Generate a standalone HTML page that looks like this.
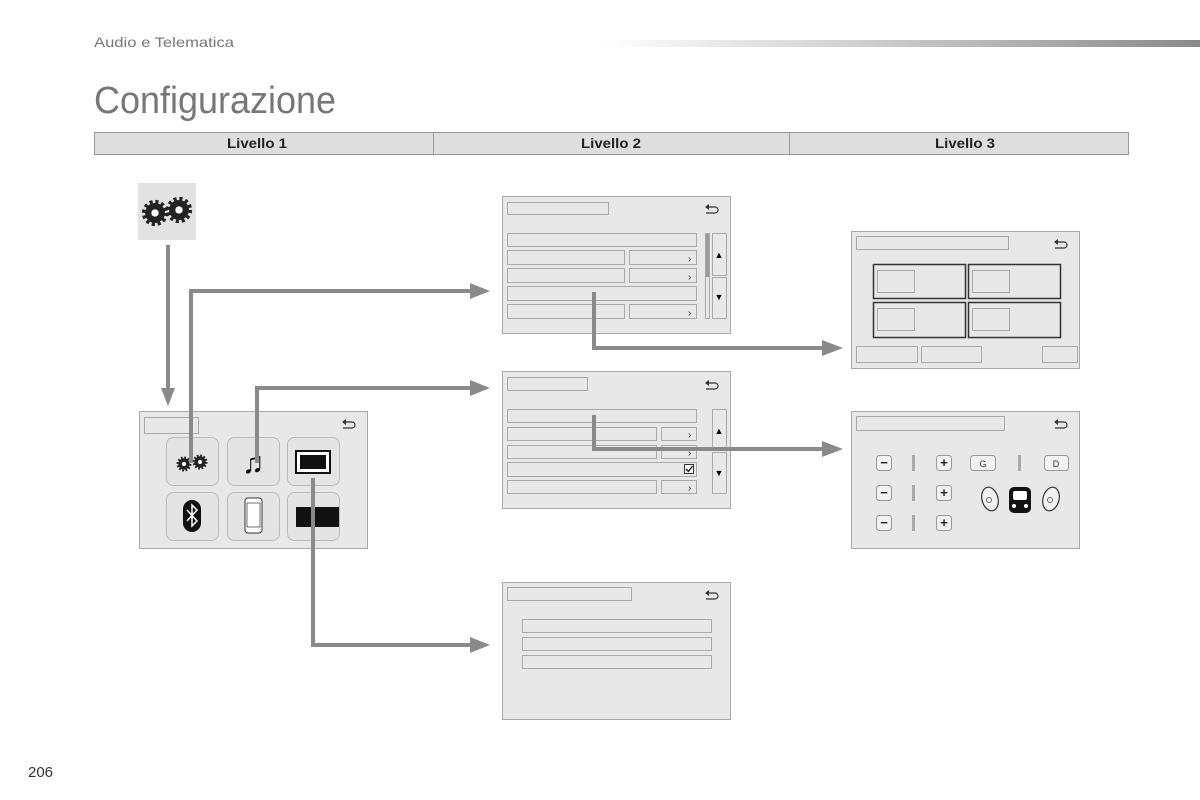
<!DOCTYPE html>
<html><head><meta charset="utf-8"><style>
html,body{margin:0;padding:0;background:#fff;}
svg{display:block;font-family:"Liberation Sans",sans-serif;}
</style></head><body>
<svg width="1200" height="800" viewBox="0 0 1200 800" xmlns="http://www.w3.org/2000/svg">
<defs>
<linearGradient id="g1" x1="0" x2="1"><stop offset="0" stop-color="#fff"/><stop offset="0.5" stop-color="#c8c8c8"/><stop offset="1" stop-color="#8a8a8a"/></linearGradient>
<g id="gear">
<circle r="10.5" fill="none" stroke="#222" stroke-width="4" stroke-dasharray="2.9 2.6"/>
<circle r="9.5" fill="#222"/>
<circle r="3.5" fill="#fff"/>
</g>
<g id="back"><path d="M-5,-3 H3 A3,3 0 0 1 3,3 H-6" fill="none" stroke="#333" stroke-width="1.2"/><path d="M-7,-3 L-3,-6 L-3,0 Z" fill="#333"/></g>
</defs>
<text x="94" y="47" font-size="14" fill="#777" textLength="140" lengthAdjust="spacingAndGlyphs">Audio e Telematica</text>
<rect x="600" y="40" width="600" height="7" fill="url(#g1)"/>
<text x="94" y="113" font-size="38" fill="#777" textLength="242" lengthAdjust="spacingAndGlyphs">Configurazione</text>
<rect x="94.5" y="132.5" width="1034" height="22" fill="#dedede" stroke="#999"/>
<line x1="433.5" y1="132" x2="433.5" y2="155" stroke="#999"/>
<line x1="789.5" y1="132" x2="789.5" y2="155" stroke="#999"/>
<g font-size="14" font-weight="bold" fill="#222" text-anchor="middle">
<text x="257" y="148" textLength="60" lengthAdjust="spacingAndGlyphs">Livello 1</text><text x="611" y="148" textLength="60" lengthAdjust="spacingAndGlyphs">Livello 2</text><text x="965" y="148" textLength="60" lengthAdjust="spacingAndGlyphs">Livello 3</text></g>
<text x="28" y="777" font-size="15" fill="#333">206</text>

<rect x="138" y="183" width="58" height="57" fill="#e2e2e2"/>
<g transform="translate(155,213) scale(1.05)"><use href="#gear"/></g>
<g transform="translate(179,210) scale(1.05)"><use href="#gear"/></g>

<!-- Level 1 panel -->
<rect x="139.5" y="411.5" width="228" height="137" fill="#e8e8e8" stroke="#aaa"/>
<rect x="144.5" y="417.5" width="54" height="16" fill="none" stroke="#aaa"/>
<use href="#back" x="349" y="425"/>
<g fill="#e4e4e4" stroke="#bbb">
<rect x="166.5" y="437.5" width="52" height="48" rx="7"/><rect x="227.5" y="437.5" width="52" height="48" rx="7"/><rect x="287.5" y="437.5" width="52" height="48" rx="7"/>
<rect x="166.5" y="492.5" width="52" height="48" rx="7"/><rect x="227.5" y="492.5" width="52" height="48" rx="7"/><rect x="287.5" y="492.5" width="52" height="48" rx="7"/></g>
<g transform="translate(184,464) scale(0.6)"><use href="#gear"/></g>
<g transform="translate(200,462) scale(0.6)"><use href="#gear"/></g>
<text x="253" y="473" font-size="30" text-anchor="middle" fill="#111">♫</text>
<rect x="296" y="451" width="34" height="22" fill="#fff" stroke="#111" stroke-width="2"/>
<rect x="300" y="455" width="26" height="14" fill="#111"/>
<rect x="183" y="500" width="18" height="32" rx="9" fill="#111"/>
<path d="M187,510 L197,521 L192,526 L192,505 L197,510 L187,521" fill="none" stroke="#fff" stroke-width="1.5"/>
<rect x="245" y="498" width="17" height="35" rx="3" fill="#fff" stroke="#333"/>
<rect x="247" y="503" width="13" height="24" fill="none" stroke="#333" stroke-width="0.7"/>
<rect x="296" y="507" width="43" height="20" fill="#111"/>

<!-- Panel A -->
<rect x="502.5" y="196.5" width="228" height="137" fill="#e8e8e8" stroke="#aaa"/>
<g fill="none" stroke="#aaa">
<rect x="507.5" y="202.5" width="101" height="12"/>
<rect x="507.5" y="233.5" width="189" height="13"/>
<rect x="507.5" y="250.5" width="117" height="14"/><rect x="629.5" y="250.5" width="67" height="14"/>
<rect x="507.5" y="268.5" width="117" height="14"/><rect x="629.5" y="268.5" width="67" height="14"/>
<rect x="507.5" y="286.5" width="189" height="14"/>
<rect x="507.5" y="304.5" width="117" height="14"/><rect x="629.5" y="304.5" width="67" height="14"/>
<rect x="705.5" y="233.5" width="4" height="85"/>
<rect x="712.5" y="233.5" width="14" height="42"/><rect x="712.5" y="277.5" width="14" height="41"/></g>
<rect x="706" y="234" width="3" height="43" fill="#999"/>
<use href="#back" x="712" y="210"/>
<g font-size="10" fill="#333"><text x="688" y="262">›</text><text x="688" y="280">›</text><text x="688" y="316">›</text></g>
<text x="719" y="258" font-size="9" text-anchor="middle">▲</text><text x="719" y="300" font-size="9" text-anchor="middle">▼</text>

<!-- Panel B -->
<rect x="502.5" y="371.5" width="228" height="137" fill="#e8e8e8" stroke="#aaa"/>
<g fill="none" stroke="#aaa">
<rect x="507.5" y="377.5" width="80" height="13"/>
<rect x="507.5" y="409.5" width="189" height="13"/>
<rect x="507.5" y="427.5" width="149" height="13"/><rect x="661.5" y="427.5" width="35" height="13"/>
<rect x="507.5" y="445.5" width="149" height="13"/><rect x="661.5" y="445.5" width="35" height="13"/>
<rect x="507.5" y="462.5" width="189" height="14"/>
<rect x="507.5" y="480.5" width="149" height="13"/><rect x="661.5" y="480.5" width="35" height="13"/>
<rect x="712.5" y="409.5" width="14" height="41"/><rect x="712.5" y="452.5" width="14" height="41"/></g>
<rect x="684.5" y="464.5" width="9" height="9" fill="#fff" stroke="#333"/>
<path d="M686,469 L688.5,471.5 L692.5,466" fill="none" stroke="#111" stroke-width="1.3"/>
<use href="#back" x="712" y="386"/>
<g font-size="10" fill="#333"><text x="688" y="438">›</text><text x="688" y="456">›</text><text x="688" y="491">›</text></g>
<text x="719" y="434" font-size="9" text-anchor="middle">▲</text><text x="719" y="476" font-size="9" text-anchor="middle">▼</text>

<!-- Panel C -->
<rect x="502.5" y="582.5" width="228" height="137" fill="#e8e8e8" stroke="#aaa"/>
<g fill="none" stroke="#aaa">
<rect x="507.5" y="587.5" width="124" height="13"/>
<rect x="522.5" y="619.5" width="189" height="13"/><rect x="522.5" y="637.5" width="189" height="13"/><rect x="522.5" y="655.5" width="189" height="13"/></g>
<use href="#back" x="712" y="596"/>

<!-- Panel D -->
<rect x="851.5" y="231.5" width="228" height="137" fill="#e8e8e8" stroke="#aaa"/>
<g fill="none" stroke="#aaa">
<rect x="856.5" y="236.5" width="152" height="13"/>
<rect x="877.5" y="270.5" width="37" height="22"/><rect x="972.5" y="270.5" width="37" height="22"/>
<rect x="877.5" y="308.5" width="37" height="22"/><rect x="972.5" y="308.5" width="37" height="22"/>
<rect x="856.5" y="346.5" width="61" height="16"/><rect x="921.5" y="346.5" width="60" height="16"/><rect x="1042.5" y="346.5" width="35" height="16"/></g>
<g fill="none" stroke="#333" stroke-width="1.5">
<rect x="873.5" y="264.5" width="92" height="34"/><rect x="968.5" y="264.5" width="92" height="34"/>
<rect x="873.5" y="302.5" width="92" height="35"/><rect x="968.5" y="302.5" width="92" height="35"/></g>
<use href="#back" x="1061" y="245"/>

<!-- Panel E -->
<rect x="851.5" y="411.5" width="228" height="137" fill="#e8e8e8" stroke="#aaa"/>
<rect x="856.5" y="416.5" width="148" height="14" fill="none" stroke="#aaa"/>
<use href="#back" x="1061" y="425"/>
<g fill="#f2f2f2" stroke="#999">
<rect x="876.5" y="455.5" width="15" height="15" rx="3"/><rect x="876.5" y="485.5" width="15" height="15" rx="3"/><rect x="876.5" y="515.5" width="15" height="15" rx="3"/>
<rect x="936.5" y="455.5" width="15" height="15" rx="3"/><rect x="936.5" y="485.5" width="15" height="15" rx="3"/><rect x="936.5" y="515.5" width="15" height="15" rx="3"/>
<rect x="970.5" y="455.5" width="25" height="15" rx="3"/><rect x="1044.5" y="455.5" width="24" height="15" rx="3"/></g>
<g fill="#aaa"><rect x="912" y="455" width="3" height="16"/><rect x="912" y="485" width="3" height="16"/><rect x="912" y="515" width="3" height="16"/><rect x="1018" y="455" width="3" height="16"/></g>
<g font-size="13" font-weight="bold" fill="#222" text-anchor="middle">
<text x="884" y="467">−</text><text x="884" y="497">−</text><text x="884" y="527">−</text>
<text x="944" y="467">+</text><text x="944" y="497">+</text><text x="944" y="527">+</text></g>
<g font-size="9" fill="#333" text-anchor="middle"><text x="983" y="467">G</text><text x="1056" y="467">D</text></g>
<g fill="#f2f2f2" stroke="#333" stroke-width="1.2">
<ellipse cx="990" cy="499" rx="8" ry="12" transform="rotate(-15 990 499)"/>
<ellipse cx="1051" cy="499" rx="8" ry="12" transform="rotate(15 1051 499)"/></g>
<circle cx="989" cy="500" r="2.5" fill="none" stroke="#666"/><circle cx="1050" cy="500" r="2.5" fill="none" stroke="#666"/>
<rect x="1009" y="487" width="22" height="26" rx="5" fill="#111"/>
<rect x="1013" y="491" width="14" height="9" rx="2" fill="#fff"/>
<circle cx="1014" cy="506" r="2" fill="#fff"/><circle cx="1026" cy="506" r="2" fill="#fff"/>

<!-- Connectors -->
<g fill="none" stroke="#8a8a8a" stroke-width="4">
<line x1="168" y1="245" x2="168" y2="390"/>
<polyline points="191,463 191,291 472,291"/>
<polyline points="257,463 257,388 472,388"/>
<polyline points="313,478 313,645 472,645"/>
<polyline points="594,292 594,348 824,348"/>
<polyline points="594,415 594,449 824,449"/>
</g>
<g fill="#8a8a8a">
<polygon points="161,388 175,388 168,406"/>
<polygon points="470,283 490,291 470,299"/>
<polygon points="470,380 490,388 470,396"/>
<polygon points="470,637 490,645 470,653"/>
<polygon points="822,340 843,348 822,356"/>
<polygon points="822,441 843,449 822,457"/>
</g>
</svg>
</body></html>
